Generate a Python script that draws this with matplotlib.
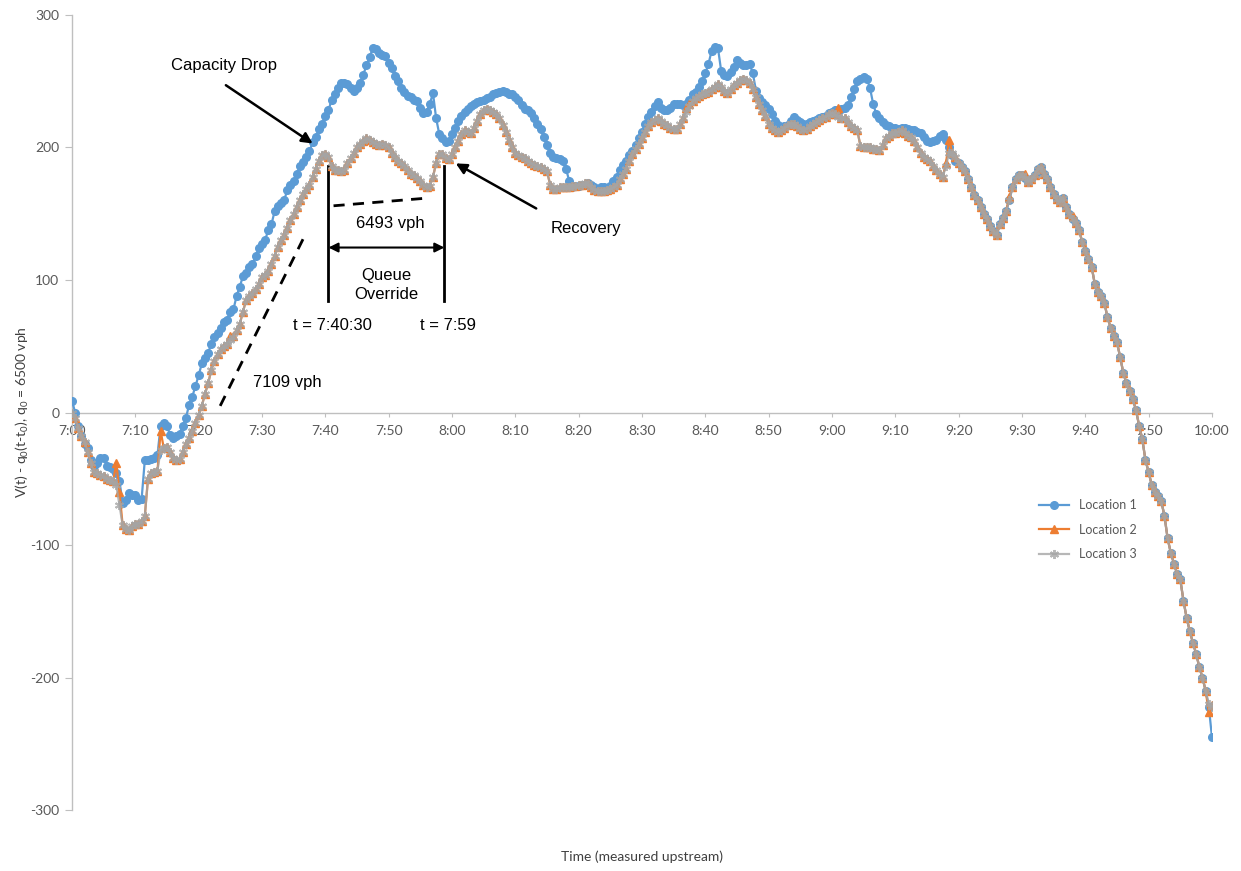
import numpy as np
import matplotlib
matplotlib.use("Agg")
import matplotlib.pyplot as plt

# Cumulative count minus reference flow, sampled every 30 s from 7:00 to 10:00
minutes = np.arange(0, 180.5, 0.5)

location1 = [
    9, 0, -10, -18, -24, -27, -36, -40, -38, -34, -34, -40, -41, -43, -46, -52, -68, -66, -61, -62,
    -62, -66, -65, -36, -36, -35, -34, -32, -10, -8, -10, -17, -19, -18, -16, -10, -4, 6, 12, 20,
    28, 37, 41, 45, 52, 57, 60, 64, 68, 70, 76, 78, 88, 95, 103, 105, 110, 112, 118, 124,
    127, 130, 138, 142, 152, 156, 158, 160, 168, 172, 175, 180, 186, 189, 193, 197, 204, 208, 214, 218,
    224, 228, 236, 240, 245, 249, 249, 248, 245, 243, 245, 249, 255, 262, 268, 275, 274, 271, 270, 269,
    264, 260, 254, 250, 245, 242, 239, 238, 236, 235, 230, 226, 227, 233, 241, 222, 210, 207, 204, 205,
    210, 215, 220, 224, 227, 229, 231, 233, 234, 235, 236, 237, 238, 240, 241, 242, 243, 242, 240, 240,
    238, 236, 232, 229, 228, 226, 222, 218, 214, 208, 202, 196, 193, 192, 191, 190, 184, 175, 170, 171,
    171, 172, 172, 173, 172, 170, 169, 170, 170, 169, 171, 175, 178, 183, 187, 190, 194, 197, 202, 207,
    212, 218, 223, 227, 231, 234, 230, 228, 228, 230, 233, 233, 233, 232, 233, 236, 240, 242, 246, 250,
    256, 263, 273, 276, 275, 258, 255, 254, 257, 261, 266, 264, 262, 262, 263, 256, 243, 237, 234, 232,
    229, 225, 220, 217, 215, 216, 217, 220, 223, 221, 219, 218, 218, 219, 220, 221, 222, 223, 224, 226,
    227, 228, 228, 229, 230, 232, 238, 244, 250, 252, 253, 252, 245, 233, 225, 222, 219, 217, 216, 215,
    215, 214, 215, 215, 214, 213, 213, 212, 211, 208, 205, 204, 205, 206, 209, 210, 206, 200, 194, 190,
    188, 185, 182, 176, 170, 164, 160, 155, 150, 146, 141, 137, 134, 142, 147, 152, 160, 170, 176, 179,
    179, 177, 174, 176, 179, 184, 185, 180, 176, 170, 165, 161, 159, 162, 155, 150, 146, 143, 138, 129,
    122, 116, 110, 97, 91, 88, 83, 72, 64, 58, 53, 42, 30, 22, 16, 10, 2, -10, -20, -36,
    -45, -55, -60, -63, -67, -78, -95, -106, -114, -122, -126, -142, -155, -165, -174, -182, -192, -200, -210, -222,
    -245,
]

location2 = [
    -2, -4, -12, -18, -22, -30, -38, -45, -46, -47, -48, -50, -51, -52, -38, -60, -85, -88, -89, -86,
    -84, -84, -82, -78, -50, -46, -45, -44, -14, -27, -26, -30, -34, -36, -35, -30, -24, -19, -14, -8,
    -2, 5, 14, 22, 32, 39, 44, 48, 50, 52, 58, 58, 62, 67, 76, 85, 88, 90, 93, 97,
    102, 104, 107, 112, 118, 125, 130, 134, 139, 145, 150, 155, 160, 165, 169, 172, 178, 184, 190, 194,
    195, 193, 186, 183, 183, 182, 183, 188, 192, 196, 200, 203, 205, 207, 206, 204, 203, 202, 203, 202,
    200, 196, 193, 190, 188, 186, 183, 180, 179, 177, 175, 172, 170, 171, 178, 188, 195, 195, 192, 191,
    195, 200, 205, 210, 213, 212, 211, 215, 220, 225, 228, 229, 228, 227, 225, 222, 217, 212, 206, 200,
    196, 194, 193, 192, 190, 188, 187, 186, 185, 184, 182, 172, 169, 169, 170, 170, 170, 170, 171, 171,
    172, 172, 173, 173, 170, 168, 167, 167, 167, 168, 169, 170, 172, 176, 180, 184, 190, 195, 199, 203,
    207, 212, 216, 219, 221, 222, 220, 218, 217, 215, 214, 214, 218, 222, 230, 233, 235, 237, 239, 240,
    241, 242, 244, 246, 248, 246, 243, 241, 244, 247, 249, 251, 252, 251, 249, 244, 238, 233, 228, 224,
    218, 215, 213, 212, 213, 215, 217, 218, 218, 216, 214, 213, 214, 216, 218, 219, 221, 222, 223, 225,
    226, 225, 230, 222, 222, 219, 216, 215, 213, 201, 200, 200, 200, 199, 199, 198, 202, 207, 209, 211,
    211, 212, 213, 211, 209, 208, 205, 200, 196, 193, 191, 190, 186, 183, 180, 178, 188, 206, 196, 193,
    188, 185, 182, 176, 170, 164, 160, 155, 150, 146, 141, 137, 134, 142, 147, 152, 163, 170, 176, 179,
    179, 180, 174, 176, 179, 184, 185, 180, 176, 170, 165, 161, 159, 162, 155, 150, 148, 143, 138, 129,
    122, 116, 110, 97, 91, 88, 83, 72, 64, 58, 53, 42, 30, 22, 16, 10, 2, -10, -20, -36,
    -45, -55, -60, -63, -67, -78, -95, -106, -114, -122, -126, -142, -155, -165, -174, -182, -192, -200, -210, -226,
    -221,
]

location3 = [
    0, -4, -12, -18, -22, -30, -38, -45, -46, -47, -48, -50, -51, -52, -55, -70, -85, -88, -89, -86,
    -84, -84, -82, -78, -50, -46, -45, -44, -28, -27, -26, -30, -34, -36, -35, -30, -24, -19, -14, -8,
    -2, 5, 14, 22, 32, 39, 44, 48, 50, 52, 55, 57, 62, 67, 76, 85, 88, 90, 93, 97,
    102, 104, 107, 112, 118, 125, 130, 134, 139, 145, 150, 155, 160, 165, 169, 172, 178, 184, 190, 194,
    195, 193, 186, 183, 183, 182, 183, 188, 192, 196, 200, 203, 205, 207, 206, 204, 203, 202, 203, 202,
    200, 196, 193, 190, 188, 186, 183, 180, 179, 177, 175, 172, 170, 171, 178, 188, 195, 195, 192, 191,
    195, 200, 205, 210, 213, 212, 211, 215, 220, 225, 228, 229, 228, 227, 225, 222, 217, 212, 206, 200,
    196, 194, 193, 192, 190, 188, 187, 186, 185, 184, 182, 172, 169, 169, 170, 170, 170, 170, 171, 171,
    172, 172, 173, 173, 170, 168, 167, 167, 167, 168, 169, 170, 172, 176, 180, 184, 190, 195, 199, 203,
    207, 212, 216, 219, 221, 222, 220, 218, 217, 215, 214, 214, 218, 222, 227, 231, 235, 237, 239, 240,
    241, 242, 244, 246, 248, 246, 243, 241, 244, 247, 249, 251, 252, 251, 249, 244, 238, 233, 228, 224,
    218, 215, 213, 212, 213, 215, 217, 218, 218, 216, 214, 213, 214, 216, 218, 219, 221, 222, 223, 225,
    226, 225, 223, 222, 222, 219, 216, 215, 213, 201, 200, 200, 200, 199, 199, 198, 202, 207, 209, 211,
    211, 212, 213, 211, 209, 208, 205, 200, 196, 193, 191, 190, 186, 183, 180, 178, 186, 196, 196, 193,
    188, 185, 182, 176, 170, 164, 160, 155, 150, 146, 141, 137, 134, 142, 147, 152, 160, 170, 176, 179,
    179, 177, 174, 176, 179, 184, 185, 180, 176, 170, 165, 161, 159, 162, 155, 150, 146, 143, 138, 129,
    122, 116, 110, 97, 91, 88, 83, 72, 64, 58, 53, 42, 30, 22, 16, 10, 2, -10, -20, -36,
    -45, -55, -60, -63, -67, -78, -95, -106, -114, -122, -126, -142, -155, -165, -174, -182, -192, -200, -210, -220,
    -222,
]

tick_minutes = list(range(0, 181, 10))
tick_labels = ["7:00", "7:10", "7:20", "7:30", "7:40", "7:50", "8:00", "8:10", "8:20", "8:30",
               "8:40", "8:50", "9:00", "9:10", "9:20", "9:30", "9:40", "9:50", "10:00"]
y_ticks = [300, 200, 100, 0, -100, -200, -300]
y_labels = ["300", "200", "100", "0", "-100", "-200", "-300"]

plt.rcParams["font.family"] = ["Lato", "DejaVu Sans"]
plt.rcParams["mathtext.fontset"] = "custom"
plt.rcParams["mathtext.rm"] = "Lato"
plt.rcParams["mathtext.it"] = "Lato:italic"

fig = plt.figure(figsize=(12.41, 8.71), dpi=100)
ax = fig.add_axes([0.058, 0.070, 0.9186, 0.9128])

blue, orange, grey = "#5B9BD5", "#ED7D31", "#A5A5A5"
ax.plot(minutes, location1, color=blue, lw=1.6, marker="o", ms=5.5, label="Location 1", zorder=3)
ax.plot(minutes, location2, color=orange, lw=1.6, marker="^", ms=5.5, label="Location 2", zorder=4)
ax.plot(minutes, location3, color=grey, lw=1.6, marker=(6, 2, 0), ms=6.5, mew=1.4, alpha=0.8,
        label="Location 3", zorder=5)

ax.set_xlim(0, 180)
ax.set_ylim(-300, 300)
ax.spines["bottom"].set_position(("data", 0))
ax.spines["top"].set_visible(False)
ax.spines["right"].set_visible(False)
for s in ("left", "bottom"):
    ax.spines[s].set_color("#BFBFBF")
    ax.spines[s].set_linewidth(1.0)

ax.set_xticks(tick_minutes)
ax.set_xticklabels(tick_labels)
ax.set_yticks(y_ticks)
ax.set_yticklabels(y_labels)
ax.tick_params(axis="x", direction="out", length=3, color="#BFBFBF", labelsize=10,
               labelcolor="#595959", pad=6)
ax.tick_params(axis="y", direction="out", length=5, color="#BFBFBF", labelsize=10,
               labelcolor="#595959", pad=4)

fig.text(0.018, 0.527, r"V(t) - q$_0$(t-t$_0$), q$_0$ = 6500 vph", rotation=90,
         ha="center", va="center", fontsize=10, color="#404040")
fig.text(0.517, 0.016, "Time (measured upstream)", ha="center", va="center",
         fontsize=10, color="#404040")

fig.legend(loc="upper left", bbox_to_anchor=(0.828, 0.44), frameon=False, fontsize=9,
           labelcolor="#595959", handlelength=2.4, labelspacing=1.0)

# Annotations
ann_font = dict(family=["Liberation Sans", "DejaVu Sans"], fontsize=12, color="black")
arrow = dict(arrowstyle="-|>", color="black", lw=1.8, mutation_scale=16, shrinkA=0, shrinkB=0)

ax.annotate("", xy=(38.0, 203), xytext=(24.3, 247), arrowprops=arrow)
ax.text(24.0, 262, "Capacity Drop", ha="center", va="center", **ann_font)

ax.annotate("", xy=(60.6, 188), xytext=(73.3, 154), arrowprops=arrow)
ax.text(81.2, 139, "Recovery", ha="center", va="center", **ann_font)

ax.plot([40.5, 40.5], [84, 186], color="black", lw=2)
ax.plot([58.8, 58.8], [84, 186], color="black", lw=2)
ax.annotate("", xy=(40.5, 124.5), xytext=(58.8, 124.5),
            arrowprops=dict(arrowstyle="<|-|>", color="black", lw=1.5, mutation_scale=14,
                            shrinkA=0, shrinkB=0))
ax.text(49.7, 96, "Queue\nOverride", ha="center", va="center", linespacing=1.3, **ann_font)
ax.text(50.3, 143, "6493 vph", ha="center", va="center", **ann_font)
ax.text(41.1, 66, "t = 7:40:30", ha="center", va="center", **ann_font)
ax.text(59.4, 66, "t = 7:59", ha="center", va="center", **ann_font)

ax.plot([23.4, 36.5], [5, 131], color="black", lw=2, ls=(0, (4, 3)))
ax.plot([41.3, 56.6], [156, 162], color="black", lw=2, ls=(0, (4, 3)))
ax.text(34.0, 23, "7109 vph", ha="center", va="center", **ann_font)

fig.savefig("out.png", dpi=100)
